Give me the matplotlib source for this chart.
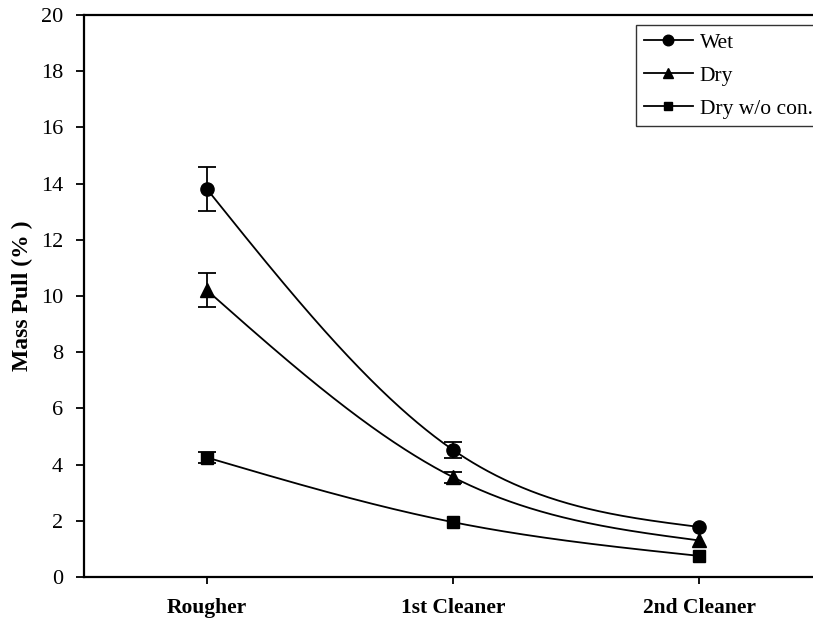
import numpy as np
import matplotlib.pyplot as plt

plt.rcParams['font.family'] = ['Liberation Serif', 'DejaVu Serif']

stages = ["Rougher", "1st Cleaner", "2nd Cleaner"]
wet = [13.8, 4.52, 1.78]
wet_err = [0.78, 0.3, 0.0]
dry = [10.2, 3.55, 1.3]
dry_err = [0.6, 0.2, 0.0]
dry_nocon = [4.25, 1.95, 0.75]
dry_nocon_err = [0.2, 0.0, 0.0]


def natural_spline(y, n=200):
    # natural cubic spline through 3 equally spaced points
    y = np.asarray(y, dtype=float)
    m1 = 1.5 * (y[0] - 2 * y[1] + y[2])
    M = [0.0, m1, 0.0]
    xs, ys = [], []
    for i in range(2):
        t = np.linspace(0, 1, n)
        s = (y[i] * (1 - t) + y[i + 1] * t
             + M[i] / 6 * ((1 - t) ** 3 - (1 - t))
             + M[i + 1] / 6 * (t ** 3 - t))
        xs.append(i + t)
        ys.append(s)
    return np.concatenate(xs), np.concatenate(ys)


fig = plt.figure(figsize=(8.13, 6.19), dpi=100)
ax = fig.add_axes([0.1033, 0.0679, 0.908, 0.9079])

x = np.arange(len(stages))
series = [(wet, wet_err, 'o', 9.5, "Wet"),
          (dry, dry_err, '^', 9.5, "Dry"),
          (dry_nocon, dry_nocon_err, 's', 8, "Dry w/o con.")]
handles = []
for vals, err, mk, ms, lab in series:
    sx, sy = natural_spline(vals)
    ax.plot(sx, sy, color='black', lw=1.3, zorder=2)
    e = np.array(err)
    keep = e > 0
    if keep.any():
        ax.errorbar(x[keep], np.array(vals)[keep], yerr=e[keep], fmt='none',
                    ecolor='black', elinewidth=1.3, capsize=6.5, capthick=1.3, zorder=3)
    ax.plot(x, vals, linestyle='none', marker=mk, ms=ms, color='black', zorder=4)
    h, = ax.plot([], [], color='black', lw=1.3, marker=mk, ms=ms * 0.8, label=lab)
    handles.append(h)

ax.set_xlim(-0.5, 2.5)
ax.set_ylim(0, 20)
ax.set_yticks(np.arange(0, 21, 2))
ax.set_xticks(x)
ax.set_xticklabels(stages, fontsize=15.5, fontweight='bold')
ax.tick_params(axis='y', direction='out', length=6, width=1.3, labelsize=16, pad=9)
ax.tick_params(axis='x', direction='out', length=5, width=1.3, pad=10)
ax.set_ylabel("Mass Pull (% )", fontsize=17, fontweight='bold', labelpad=6)
for sp in ax.spines.values():
    sp.set_linewidth(1.6)

fig.legend(handles=handles, loc='upper left', bbox_to_anchor=(636 / 813, 1 - 25 / 619),
           fontsize=15.5, frameon=True, fancybox=False, edgecolor='black',
           handlelength=2.3, handletextpad=0.3, borderpad=0.35, labelspacing=0.6,
           borderaxespad=0)
leg = fig.legends[0]
leg.get_frame().set_linewidth(1.0)

fig.savefig("out.png", dpi=100)
